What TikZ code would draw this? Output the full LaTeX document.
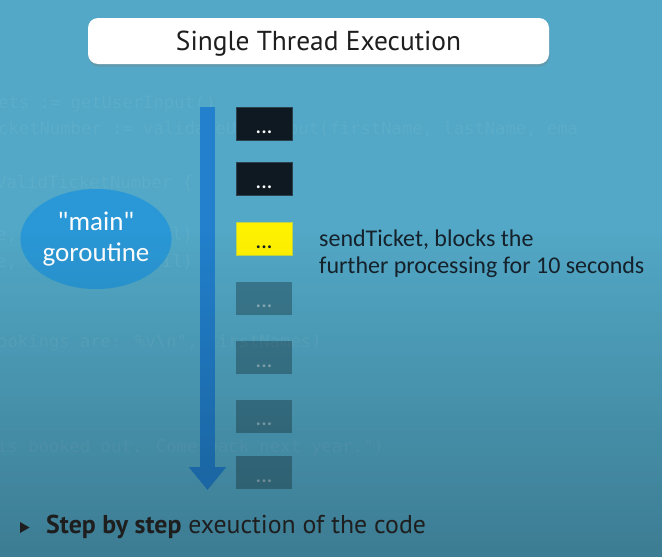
\documentclass[tikz,border=0pt]{standalone}
\usepackage{fontspec}
\setmainfont{Carlito}
\newfontfamily\headfont{PT Sans}
\newfontfamily\codefont{DejaVu Sans Mono}
\usetikzlibrary{arrows.meta,shapes.geometric,shadows,fadings}

\definecolor{bgteal}{RGB}{82,168,198}
\definecolor{flowblue}{RGB}{34,128,204}
\definecolor{gorblue}{RGB}{42,152,214}
\definecolor{stepdark}{RGB}{14,25,33}
\definecolor{stepedge}{RGB}{45,66,78}
\definecolor{yellowedge}{RGB}{190,212,70}
\definecolor{inkdark}{RGB}{22,34,44}
\definecolor{titleink}{RGB}{30,30,30}

\begin{document}
\begin{tikzpicture}[x=1pt,y=-1pt,
  stepbox/.style={minimum width=56pt, minimum height=33pt, inner sep=0pt,
    text height=0pt, text depth=0pt, font=\fontsize{8}{8}\selectfont},
  donebox/.style={stepbox, fill=stepdark, draw=stepedge, line width=0.8pt, text=white},
  activebox/.style={stepbox, fill=yellow, draw=yellowedge, line width=0.8pt, text=stepdark},
  pendingbox/.style={stepbox, fill=black, fill opacity=0.27, text=white, text opacity=0.4},
  ghost/.style={anchor=west, inner sep=0pt, text=white, text opacity=0.06,
    font=\codefont\fontsize{17.2}{17.2}\selectfont},
  titlebox/.style={fill=white, rounded corners=10pt, minimum width=461pt,
    minimum height=46pt, inner sep=0pt, text=titleink, text depth=0pt,
    font=\headfont\fontsize{27.4}{27.4}\selectfont,
    drop shadow={shadow xshift=0.5pt, shadow yshift=-2.5pt, opacity=0.35}},
]
\newcommand{\stepdots}{\raisebox{-10.5pt}{\textbullet\hspace{1.6pt}\textbullet\hspace{1.6pt}\textbullet}}

% canvas
\useasboundingbox (0,0) rectangle (662,557);
\fill[bgteal] (0,0) rectangle (662,557);

% faint code showing through
\node[ghost] (g1) at (-2,104) {ets := getUserInput()};
\node[ghost] (g2) at (-2,130) {cketNumber := validateUserInput(firstName, lastName, ema};
\node[ghost] (g3) at (-4,183) {ValidTicketNumber \{};
\node[ghost] (g4) at (-4,235) {e, lastName, email)};
\node[ghost] (g5) at (-4,262) {e, lastName, email)};
\node[ghost] (g6) at (-3,343) {ookings are: \%v\textbackslash n\textquotedbl, firstNames)};
\node[ghost] (g7) at (-3,448) {is booked out. Come back next year.\textquotedbl)};

% heading
\node[titlebox] (title) at (318.5,41) {Single Thread Execution};

% the main goroutine
\node[ellipse, fill=gorblue, minimum width=151pt, minimum height=100pt,
  inner sep=0pt, text=white, align=center,
  font=\fontsize{27}{31}\selectfont] (gor) at (96,239)
  {\textquotedbl main\textquotedbl\\goroutine};

% flow of execution
\coordinate (flowtop) at (207.5,107);
\coordinate (flowend) at (207.5,490);
\draw[flowblue, line width=15pt, -{Triangle[width=36pt,length=23pt]}]
  (flowtop) -- (flowend);

% statements
\node[donebox]    (s1) at (264,123.5) {\stepdots};
\node[donebox]    (s2) at (264,179)   {\stepdots};
\node[activebox]  (s3) at (264,238.5) {\stepdots};
\node[pendingbox] (s4) at (264,298)   {\stepdots};
\node[pendingbox] (s5) at (264,357.5) {\stepdots};
\node[pendingbox] (s6) at (264,416)   {\stepdots};
\node[pendingbox] (s7) at (264,472.5) {\stepdots};

% note on the blocking call
\node[anchor=west, align=left, inner sep=0pt, text=inkdark,
  font=\fontsize{24}{27}\selectfont] (note) at (319,253.5)
  {sendTicket, blocks the\\further processing for 10 seconds};

% darker lower half
\fill[black, path fading=north, opacity=0.26] (0,230) rectangle (662,557);

% bullet line
\fill[titleink] (20,522) -- (20,533) -- (29.5,527.5) -- cycle;
\node[anchor=west, inner sep=0pt, text=titleink,
  font=\headfont\fontsize{25.8}{25.8}\selectfont] (bullet) at (46,527)
  {\textbf{Step by step} exeuction of the code};
\end{tikzpicture}
\end{document}
